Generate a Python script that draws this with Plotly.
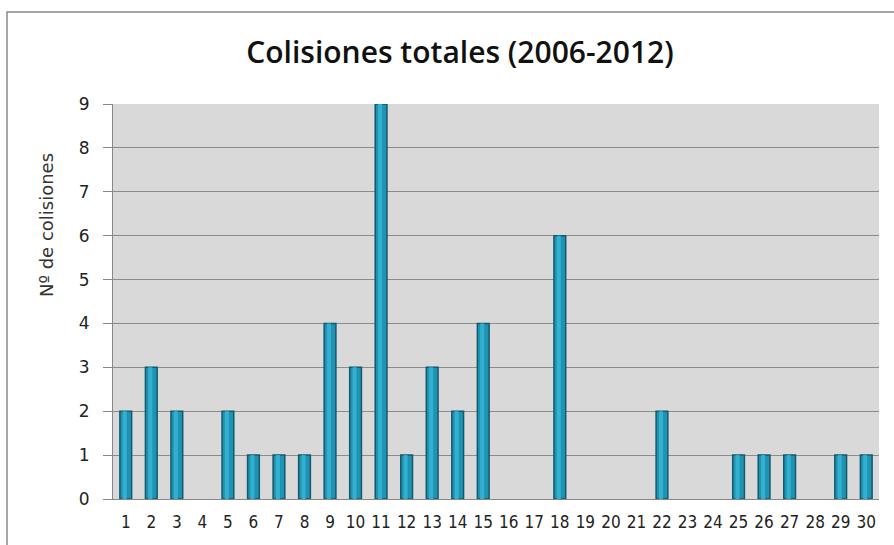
import plotly.graph_objects as go

categories = [str(i) for i in range(1, 31)]
values = [2, 3, 2, 0, 2, 1, 1, 1, 4, 3, 9, 1, 3, 2, 4, 0, 0, 6, 0, 0, 0, 2, 0, 0, 1, 1, 1, 0, 1, 1]
y_ticks = list(range(0, 10))

W, H = 894, 545
L, R, T, B = 113, 15, 104, 46
pw, ph = W - L - R, H - T - B

def px_x(x):
    return (x - L) / pw

def px_y(y):
    return (H - B - y) / ph

shown = [v if v else None for v in values]

fig = go.Figure()
fig.add_trace(go.Bar(
    x=categories, y=shown,
    marker=dict(color="#1f93b3", line=dict(color="#14596c", width=1.5)),
    width=0.46,
))
fig.add_trace(go.Bar(
    x=categories, y=shown,
    marker=dict(color="#33b0cf", line=dict(width=0)),
    width=0.16, offset=-0.12,
))

fig.update_layout(
    width=W, height=H,
    margin=dict(l=L, r=R, t=T, b=B),
    paper_bgcolor="white",
    plot_bgcolor="#d9d9d9",
    showlegend=False,
    barmode="overlay",
    title=dict(text="Colisiones totales (2006-2012)", x=460 / W, xanchor="center",
               y=1 - 52 / H, yanchor="middle",
               font=dict(family="Open Sans, DejaVu Sans, sans-serif", size=30, color="#111111", weight=600)),
    font=dict(family="DejaVu Sans, sans-serif", size=13, color="#222222"),
    xaxis=dict(
        type="category", tickmode="array", tickvals=categories, ticktext=categories,
        showgrid=False, showline=True, linecolor="#888888", linewidth=1,
        ticks="", ticklabelstandoff=8,
        tickfont=dict(size=17, family="DejaVu Sans Condensed, DejaVu Sans, sans-serif", color="#222222"),
        range=[-0.5, 29.5],
    ),
    yaxis=dict(
        range=[0, 9], tickmode="array", tickvals=y_ticks, ticktext=[str(v) for v in y_ticks],
        showgrid=True, gridcolor="#8c8c8c", gridwidth=1,
        showline=True, linecolor="#888888", linewidth=1,
        ticks="outside", ticklen=9, tickcolor="#888888", ticklabelstandoff=10,
        tickfont=dict(size=17, color="#222222"),
        zeroline=False,
    ),
    annotations=[
        dict(text="Nº de colisiones", xref="paper", yref="paper",
             x=px_x(46), y=px_y(225), xanchor="center", yanchor="middle",
             textangle=-90, showarrow=False,
             font=dict(size=18, color="#333333", family="DejaVu Sans, sans-serif")),
    ],
    shapes=[
        dict(type="rect", xref="paper", yref="paper",
             x0=px_x(7), x1=px_x(W + 20), y0=px_y(H + 20), y1=px_y(12),
             line=dict(color="#8a8a8a", width=1.5), fillcolor="rgba(0,0,0,0)", layer="below"),
    ],
)

fig.write_html("out.html")
